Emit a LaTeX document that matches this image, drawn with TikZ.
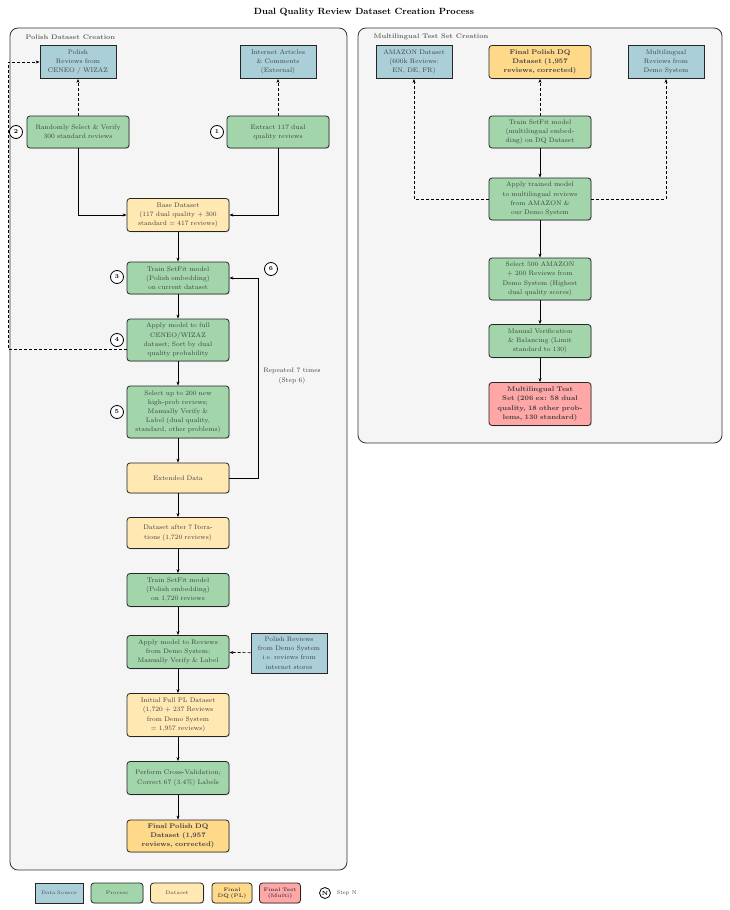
\documentclass[tikz,border=0pt]{standalone}
\usetikzlibrary{arrows.meta,shadows}
\begin{document}
\begin{tikzpicture}[x=1pt,y=-1pt,
  base/.style={draw=black!85,line width=0.8pt,align=center,font=\fontsize{6.6}{9.2}\selectfont,text=black!75,inner sep=1pt,drop shadow={shadow xshift=0.8pt,shadow yshift=-0.8pt,opacity=0.25}},
  src/.style={base,fill=srcc,minimum width=76pt,minimum height=33pt,text width=74pt},
  proc/.style={base,fill=procc,rounded corners=3pt,minimum width=102pt,text width=98pt},
  data/.style={proc,fill=datac},
  fin/.style={proc,fill=finc,font=\fontsize{6.8}{9.2}\selectfont\bfseries},
  tst/.style={proc,fill=tstc,font=\fontsize{6.8}{9.2}\selectfont\bfseries},
  stepc/.style={circle,draw=black,line width=0.8pt,fill=white,inner sep=0pt,minimum size=13pt,font=\fontsize{6}{7}\selectfont\bfseries},
  arr/.style={-{Stealth[length=4pt]},line width=0.7pt,draw=black},
  darr/.style={arr,densely dashed},
  panel/.style={draw=black!80,line width=0.8pt,fill=black!4,rounded corners=8pt},
  ptitle/.style={font=\fontsize{6.6}{8}\selectfont\bfseries,text=black!60,anchor=west}]
\definecolor{srcc}{HTML}{AACFD8}
\definecolor{procc}{HTML}{A2D5AA}
\definecolor{datac}{HTML}{FFE8B2}
\definecolor{finc}{HTML}{FFD98A}
\definecolor{tstc}{HTML}{FFA6A6}
\useasboundingbox (0,0) rectangle (729,910);
\node[font=\fontsize{9}{10}\selectfont\bfseries] (title) at (364,12) {Dual Quality Review Dataset Creation Process};
\path[panel] (10,28) rectangle (347,870);
\path[panel] (358,28) rectangle (722,443);
\node[ptitle] (lt) at (22,37) {Polish Dataset Creation};
\node[ptitle] (rt) at (370,37) {Multilingual Test Set Creation};
% left column
\node[src] (pol) at (78,62) {Polish\\Reviews from\\CENEO / WIZAZ};
\node[src] (inet) at (278,62) {Internet Articles\\\& Comments\\(External)};
\node[proc,minimum height=32pt] (rand) at (78,132) {Randomly Select \& Verify\\300 standard reviews};
\node[proc,minimum height=32pt] (ext) at (278,132) {Extract 117 dual\\quality reviews};
\node[data,minimum height=33pt] (basec) at (178,215) {Base Dataset\\(117 dual quality + 300\\standard = 417 reviews)};
\node[proc,minimum height=32pt] (tr3) at (178,278) {Train SetFit model\\(Polish embedding)\\on current dataset};
\node[proc,minimum height=42pt] (ap4) at (178,340) {Apply model to full\\CENEO/WIZAZ\\dataset; Sort by dual\\quality probability};
\node[proc,minimum height=52pt] (sel5) at (178,412) {Select up to 200 new\\high-prob reviews;\\Manually Verify \&\\Label (dual quality,\\standard, other problems)};
\node[data,minimum height=30pt] (extd) at (178,478) {Extended Data};
\node[data,minimum height=31pt] (it7) at (178,533) {Dataset after 7 Itera-\\tions (1,720 reviews)};
\node[proc,minimum height=33pt] (tr) at (178,590) {Train SetFit model\\(Polish embedding)\\on 1,720 reviews};
\node[proc,minimum height=33pt] (apd) at (178,652) {Apply model to Reviews\\from Demo System;\\Manually Verify \& Label};
\node[src,minimum height=40pt] (pdemo) at (289,653) {Polish Reviews\\from Demo System\\i.e.\ reviews from\\internet stores};
\node[data,minimum height=43pt] (init) at (178,715) {Initial Full PL Dataset\\(1,720 + 237 Reviews\\from Demo System\\= 1,957 reviews)};
\node[proc,minimum height=33pt] (cv) at (178,778) {Perform Cross-Validation;\\Correct 67 (3.4\%) Labels};
\node[fin,minimum height=32pt] (fin) at (178,836) {Final Polish DQ\\Dataset (1,957\\reviews, corrected)};
\node[stepc] (s2) at (16,132) {2};
\node[stepc] (s1) at (217,132) {1};
\node[stepc] (s3) at (117,277) {3};
\node[stepc] (s4) at (117,340) {4};
\node[stepc] (s5) at (117,412) {5};
\node[stepc] (s6) at (271,269) {6};
\node[align=center,font=\fontsize{6.6}{9.2}\selectfont,text=black!75] (rep) at (292,376) {Repeated 7 times\\(Step 6)};
\draw[darr] (rand) -- (pol);
\draw[darr] (ext) -- (inet);
\draw[arr] (rand.south) |- (basec.west);
\draw[arr] (ext.south) |- (basec.east);
\draw[arr] (basec) -- (tr3);
\draw[arr] (tr3) -- (ap4);
\draw[arr] (ap4) -- (sel5);
\draw[arr] (sel5) -- (extd);
\draw[arr] (extd) -- (it7);
\draw[arr] (it7) -- (tr);
\draw[arr] (tr) -- (apd);
\draw[arr] (apd) -- (init);
\draw[arr] (init) -- (cv);
\draw[arr] (cv) -- (fin);
\draw[darr] (pdemo) -- (apd);
\draw[arr] (extd.east) -- (258,478) |- (tr3.east);
\draw[darr] (ap4.south west |- 0,349) -- (8,349) |- (pol.west);
% right column
\node[src] (amz) at (414,62) {AMAZON Dataset\\(600k Reviews:\\EN, DE, FR)};
\node[fin,minimum height=33pt] (fin2) at (540,62) {Final Polish DQ\\Dataset (1,957\\reviews, corrected)};
\node[src] (mdemo) at (666,62) {Multilingual\\Reviews from\\Demo System};
\node[proc,minimum height=32pt] (trm) at (540,132) {Train SetFit model\\(multilingual embed-\\ding) on DQ Dataset};
\node[proc,minimum height=42pt] (apm) at (540,199) {Apply trained model\\to multilingual reviews\\from AMAZON \&\\our Demo System};
\node[proc,minimum height=42pt] (sel) at (540,279) {Select 500 AMAZON\\+ 200 Reviews from\\Demo System (Highest\\dual quality scores)};
\node[proc,minimum height=33pt] (man) at (540,341) {Manual Verification\\\& Balancing (Limit\\standard to 130)};
\node[tst,minimum height=43pt] (test) at (540,404) {Multilingual Test\\Set (206 ex: 58 dual\\quality, 18 other prob-\\lems, 130 standard)};
\draw[darr] (trm) -- (fin2);
\draw[arr] (trm) -- (apm);
\draw[arr] (apm) -- (sel);
\draw[arr] (sel) -- (man);
\draw[arr] (man) -- (test);
\draw[darr] (apm.west) -| (amz.south);
\draw[darr] (apm.east) -| (mdemo.south);
% legend
\tikzset{leg/.style={minimum height=20pt,font=\fontsize{5}{6}\selectfont}}
\node[src,leg,minimum width=48pt,text width=46pt] (l1) at (59,893) {Data Source};
\node[proc,leg,minimum width=52pt,text width=50pt] (l2) at (117,893) {Process};
\node[data,leg,minimum width=53pt,text width=51pt] (l3) at (177,893) {Dataset};
\node[fin,leg,minimum width=40pt,text width=38pt,font=\fontsize{5}{6}\selectfont\bfseries] (l4) at (232,893) {Final\\DQ (PL)};
\node[tst,leg,minimum width=41pt,text width=39pt,font=\fontsize{5}{6}\selectfont\bfseries] (l5) at (280,893) {Final Test\\(Multi)};
\node[stepc,minimum size=11pt] (l6) at (325,893) {N};
\node[anchor=west,font=\fontsize{5.5}{6}\selectfont,text=black!75] (l7) at (333,893) {Step N};
\end{tikzpicture}
\end{document}
